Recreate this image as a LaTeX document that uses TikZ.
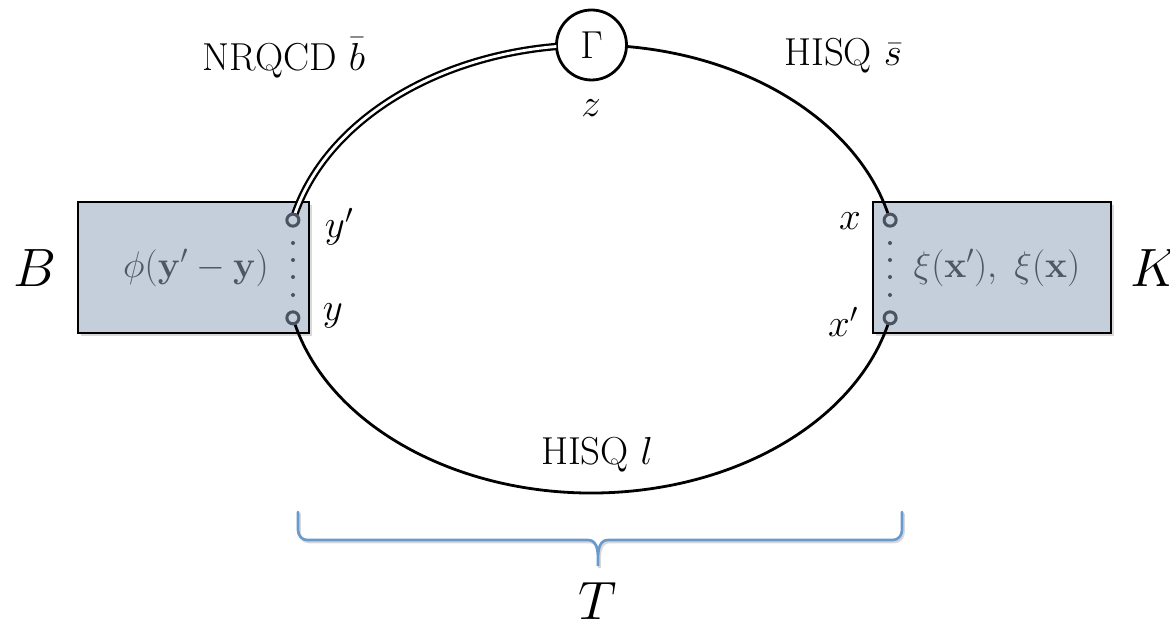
\RequirePackage{fix-cm}
\documentclass[tikz,border=0pt]{standalone}
\usetikzlibrary{shadows}
\definecolor{boxfill}{RGB}{197,207,219}
\definecolor{portcol}{RGB}{74,84,96}
\definecolor{txtcol}{RGB}{78,88,100}
\definecolor{bracecol}{RGB}{104,154,208}
\begin{document}
\begin{tikzpicture}[x=1pt,y=1pt,
  lbl/.style={font=\fontsize{39}{44}\selectfont, inner sep=0pt},
  boxtxt/.style={font=\fontsize{37}{42}\selectfont, inner sep=0pt, text=txtcol},
  big/.style={font=\fontsize{54}{58}\selectfont, inner sep=0pt},
  boxnode/.style={draw=black, line width=1.8pt, fill=boxfill, inner sep=0pt,
    drop shadow={opacity=0.3, shadow xshift=3pt, shadow yshift=-3pt}},
  port/.style={circle, draw=portcol, line width=3pt, fill=boxfill, minimum size=12pt, inner sep=0pt},
  dotn/.style={circle, fill=portcol, minimum size=4pt, inner sep=0pt},
  prop/.style={line width=2.8pt},
  heavy/.style={line width=2.3pt, double, double distance=2.8pt},
  ell/.style={x radius=306, y radius=224},
]
\useasboundingbox (0,0) rectangle (1170,628);
% boxes
\node[boxnode, minimum width=231pt, minimum height=131pt] (Bbox) at (193.5,360.5) {};
\node[boxnode, minimum width=238pt, minimum height=131pt] (Kbox) at (992,360.5) {};
% geometry
\coordinate (C) at (591.5,359);
\path (C) ++(167.4:306 and 224) coordinate (cyp);
\path (C) ++(192.6:306 and 224) coordinate (cy);
\path (C) ++(12.6:306 and 224) coordinate (cx);
\path (C) ++(347.4:306 and 224) coordinate (cxp);
% vertex
\node[circle, draw, line width=2.8pt, fill=white, minimum size=70pt, lbl] (G) at (591.5,583) {$\Gamma$};
% propagators
\draw[heavy] (cyp) arc[start angle=167.4, end angle=96.6, ell];
\draw[prop] (cx) arc[start angle=12.6, end angle=83.4, ell];
\draw[prop] (cy) arc[start angle=192.6, end angle=347.4, ell];
% ports
\node[port] (pyp) at (cyp) {};
\node[port] (py) at (cy) {};
\node[port] (px) at (cx) {};
\node[port] (pxp) at (cxp) {};
\foreach \yy [count=\i] in {385,368,351,333} {
  \node[dotn] (dl\i) at (293,\yy) {};
  \node[dotn] (dr\i) at (890,\yy) {};
}
% texts
\node[boxtxt] (phi) at (196,360) {$\phi(\mathbf{y}'-\mathbf{y})$};
\node[boxtxt] (xi) at (997,360) {$\xi(\mathbf{x}'),\ \xi(\mathbf{x})$};
\node[big] (B) at (35,360) {$B$};
\node[big, anchor=west] (K) at (1130,360) {$K$};
\node[lbl] (nrqcd) at (284,570) {NRQCD $\bar b$};
\node[lbl] (hisqs) at (843,572) {HISQ $\bar s$};
\node[lbl] (z) at (591,520) {$z$};
\node[lbl] (hisql) at (597,173) {HISQ $l$};
\node[lbl] (lyp) at (339,401) {$y'$};
\node[lbl] (ly) at (333,312) {$y$};
\node[lbl] (lx) at (850,407) {$x$};
\node[lbl] (lxp) at (843,306) {$x'$};
\node[big] (T) at (598,27) {$T$};
% brace
\draw[black!30, line width=2.6pt, line cap=round, opacity=0.5, shift={(1.5,-2)}]
  (298,116) -- (298,98) to[out=-90,in=180] (307,88) -- (588,88)
  to[out=0,in=90] (598,62) to[out=90,in=180] (608,88) -- (893,88)
  to[out=0,in=-90] (902,98) -- (902,116);
\draw[bracecol, line width=2.6pt, line cap=round]
  (298,116) -- (298,98) to[out=-90,in=180] (307,88) -- (588,88)
  to[out=0,in=90] (598,62) to[out=90,in=180] (608,88) -- (893,88)
  to[out=0,in=-90] (902,98) -- (902,116);
\end{tikzpicture}
\end{document}
